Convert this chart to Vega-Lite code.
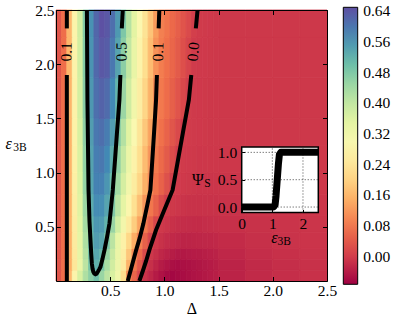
{
"$schema":"https://vega.github.io/schema/vega-lite/v6.json",
"width":271,"height":271,"autosize":"none",
"padding":{"left":56,"top":10,"right":68,"bottom":37},
"config":{"view":{"stroke":null},"axis":{"labelFont":"Liberation Serif","titleFont":"Liberation Serif","labelColor":"black","titleColor":"black","labelFontSize":15.5,"titleFontWeight":"normal","grid":false,"labelFlush":false,"labelOverlap":false,"domainColor":"black","domainWidth":1,"tickColor":"black","tickWidth":1}},
"datasets":{
"cells":[
{"x0":0,"x1":0.05,"y0":0,"y1":0.1,"v":0.035},{"x0":0.05,"x1":0.1,"y0":0,"y1":0.1,"v":0.07},{"x0":0.1,"x1":0.15,"y0":0,"y1":0.1,"v":0.163},{"x0":0.15,"x1":0.2,"y0":0,"y1":0.1,"v":0.278},{"x0":0.2,"x1":0.25,"y0":0,"y1":0.1,"v":0.372},{"x0":0.25,"x1":0.3,"y0":0,"y1":0.1,"v":0.427},{"x0":0.3,"x1":0.35,"y0":0,"y1":0.1,"v":0.465},{"x0":0.35,"x1":0.4,"y0":0,"y1":0.1,"v":0.496},{"x0":0.4,"x1":0.45,"y0":0,"y1":0.1,"v":0.451},{"x0":0.45,"x1":0.5,"y0":0,"y1":0.1,"v":0.409},{"x0":0.5,"x1":0.55,"y0":0,"y1":0.1,"v":0.371},{"x0":0.55,"x1":0.6,"y0":0,"y1":0.1,"v":0.318},{"x0":0.6,"x1":0.65,"y0":0,"y1":0.1,"v":0.219},{"x0":0.65,"x1":0.7,"y0":0,"y1":0.1,"v":0.102},{"x0":0.7,"x1":0.75,"y0":0,"y1":0.1,"v":0.057},{"x0":0.75,"x1":0.8,"y0":0,"y1":0.1,"v":0.013},{"x0":0.8,"x1":0.85,"y0":0,"y1":0.1,"v":-0.011},{"x0":0.85,"x1":0.9,"y0":0,"y1":0.1,"v":-0.027},{"x0":0.9,"x1":0.95,"y0":0,"y1":0.1,"v":-0.04},{"x0":0.95,"x1":1,"y0":0,"y1":0.1,"v":-0.05},{"x0":1,"x1":1.05,"y0":0,"y1":0.1,"v":-0.06},{"x0":1.05,"x1":1.1,"y0":0,"y1":0.1,"v":-0.063},{"x0":1.1,"x1":1.15,"y0":0,"y1":0.1,"v":-0.06},{"x0":1.15,"x1":1.2,"y0":0,"y1":0.1,"v":-0.057},{"x0":1.2,"x1":1.25,"y0":0,"y1":0.1,"v":-0.054},{"x0":1.25,"x1":1.3,"y0":0,"y1":0.1,"v":-0.05},{"x0":1.3,"x1":1.35,"y0":0,"y1":0.1,"v":-0.047},{"x0":1.35,"x1":1.4,"y0":0,"y1":0.1,"v":-0.044},{"x0":1.4,"x1":1.45,"y0":0,"y1":0.1,"v":-0.04},{"x0":1.45,"x1":1.5,"y0":0,"y1":0.1,"v":-0.037},{"x0":1.5,"x1":1.75,"y0":0,"y1":0.1,"v":-0.031},{"x0":1.75,"x1":2,"y0":0,"y1":0.1,"v":-0.022},{"x0":2,"x1":2.25,"y0":0,"y1":0.1,"v":-0.017},{"x0":2.25,"x1":2.5,"y0":0,"y1":0.1,"v":-0.013},
{"x0":0,"x1":0.05,"y0":0.1,"y1":0.2,"v":0.035},{"x0":0.05,"x1":0.1,"y0":0.1,"y1":0.2,"v":0.07},{"x0":0.1,"x1":0.15,"y0":0.1,"y1":0.2,"v":0.148},{"x0":0.15,"x1":0.2,"y0":0.1,"y1":0.2,"v":0.243},{"x0":0.2,"x1":0.25,"y0":0.1,"y1":0.2,"v":0.331},{"x0":0.25,"x1":0.3,"y0":0.1,"y1":0.2,"v":0.409},{"x0":0.3,"x1":0.35,"y0":0.1,"y1":0.2,"v":0.487},{"x0":0.35,"x1":0.4,"y0":0.1,"y1":0.2,"v":0.52},{"x0":0.4,"x1":0.45,"y0":0.1,"y1":0.2,"v":0.489},{"x0":0.45,"x1":0.5,"y0":0.1,"y1":0.2,"v":0.435},{"x0":0.5,"x1":0.55,"y0":0.1,"y1":0.2,"v":0.381},{"x0":0.55,"x1":0.6,"y0":0.1,"y1":0.2,"v":0.327},{"x0":0.6,"x1":0.65,"y0":0.1,"y1":0.2,"v":0.251},{"x0":0.65,"x1":0.7,"y0":0.1,"y1":0.2,"v":0.154},{"x0":0.7,"x1":0.75,"y0":0.1,"y1":0.2,"v":0.081},{"x0":0.75,"x1":0.8,"y0":0.1,"y1":0.2,"v":0.037},{"x0":0.8,"x1":0.85,"y0":0.1,"y1":0.2,"v":-0.002},{"x0":0.85,"x1":0.9,"y0":0.1,"y1":0.2,"v":-0.015},{"x0":0.9,"x1":0.95,"y0":0.1,"y1":0.2,"v":-0.028},{"x0":0.95,"x1":1,"y0":0.1,"y1":0.2,"v":-0.039},{"x0":1,"x1":1.05,"y0":0.1,"y1":0.2,"v":-0.047},{"x0":1.05,"x1":1.1,"y0":0.1,"y1":0.2,"v":-0.054},{"x0":1.1,"x1":1.15,"y0":0.1,"y1":0.2,"v":-0.057},{"x0":1.15,"x1":1.2,"y0":0.1,"y1":0.2,"v":-0.054},{"x0":1.2,"x1":1.25,"y0":0.1,"y1":0.2,"v":-0.052},{"x0":1.25,"x1":1.3,"y0":0.1,"y1":0.2,"v":-0.049},{"x0":1.3,"x1":1.35,"y0":0.1,"y1":0.2,"v":-0.046},{"x0":1.35,"x1":1.4,"y0":0.1,"y1":0.2,"v":-0.043},{"x0":1.4,"x1":1.45,"y0":0.1,"y1":0.2,"v":-0.04},{"x0":1.45,"x1":1.5,"y0":0.1,"y1":0.2,"v":-0.037},{"x0":1.5,"x1":1.75,"y0":0.1,"y1":0.2,"v":-0.031},{"x0":1.75,"x1":2,"y0":0.1,"y1":0.2,"v":-0.022},{"x0":2,"x1":2.25,"y0":0.1,"y1":0.2,"v":-0.017},{"x0":2.25,"x1":2.5,"y0":0.1,"y1":0.2,"v":-0.013},
{"x0":0,"x1":0.05,"y0":0.2,"y1":0.3,"v":0.035},{"x0":0.05,"x1":0.1,"y0":0.2,"y1":0.3,"v":0.07},{"x0":0.1,"x1":0.15,"y0":0.2,"y1":0.3,"v":0.15},{"x0":0.15,"x1":0.2,"y0":0.2,"y1":0.3,"v":0.25},{"x0":0.2,"x1":0.25,"y0":0.2,"y1":0.3,"v":0.34},{"x0":0.25,"x1":0.3,"y0":0.2,"y1":0.3,"v":0.419},{"x0":0.3,"x1":0.35,"y0":0.2,"y1":0.3,"v":0.5},{"x0":0.35,"x1":0.4,"y0":0.2,"y1":0.3,"v":0.535},{"x0":0.4,"x1":0.45,"y0":0.2,"y1":0.3,"v":0.515},{"x0":0.45,"x1":0.5,"y0":0.2,"y1":0.3,"v":0.455},{"x0":0.5,"x1":0.55,"y0":0.2,"y1":0.3,"v":0.393},{"x0":0.55,"x1":0.6,"y0":0.2,"y1":0.3,"v":0.331},{"x0":0.6,"x1":0.65,"y0":0.2,"y1":0.3,"v":0.262},{"x0":0.65,"x1":0.7,"y0":0.2,"y1":0.3,"v":0.185},{"x0":0.7,"x1":0.75,"y0":0.2,"y1":0.3,"v":0.108},{"x0":0.75,"x1":0.8,"y0":0.2,"y1":0.3,"v":0.063},{"x0":0.8,"x1":0.85,"y0":0.2,"y1":0.3,"v":0.021},{"x0":0.85,"x1":0.9,"y0":0.2,"y1":0.3,"v":-0.005},{"x0":0.9,"x1":0.95,"y0":0.2,"y1":0.3,"v":-0.015},{"x0":0.95,"x1":1,"y0":0.2,"y1":0.3,"v":-0.025},{"x0":1,"x1":1.05,"y0":0.2,"y1":0.3,"v":-0.033},{"x0":1.05,"x1":1.1,"y0":0.2,"y1":0.3,"v":-0.038},{"x0":1.1,"x1":1.15,"y0":0.2,"y1":0.3,"v":-0.043},{"x0":1.15,"x1":1.2,"y0":0.2,"y1":0.3,"v":-0.044},{"x0":1.2,"x1":1.25,"y0":0.2,"y1":0.3,"v":-0.042},{"x0":1.25,"x1":1.3,"y0":0.2,"y1":0.3,"v":-0.04},{"x0":1.3,"x1":1.35,"y0":0.2,"y1":0.3,"v":-0.039},{"x0":1.35,"x1":1.4,"y0":0.2,"y1":0.3,"v":-0.037},{"x0":1.4,"x1":1.45,"y0":0.2,"y1":0.3,"v":-0.034},{"x0":1.45,"x1":1.5,"y0":0.2,"y1":0.3,"v":-0.032},{"x0":1.5,"x1":1.75,"y0":0.2,"y1":0.3,"v":-0.025},{"x0":1.75,"x1":2,"y0":0.2,"y1":0.3,"v":-0.018},{"x0":2,"x1":2.25,"y0":0.2,"y1":0.3,"v":-0.014},{"x0":2.25,"x1":2.5,"y0":0.2,"y1":0.3,"v":-0.011},
{"x0":0,"x1":0.05,"y0":0.3,"y1":0.45,"v":0.035},{"x0":0.05,"x1":0.1,"y0":0.3,"y1":0.45,"v":0.07},{"x0":0.1,"x1":0.15,"y0":0.3,"y1":0.45,"v":0.151},{"x0":0.15,"x1":0.2,"y0":0.3,"y1":0.45,"v":0.253},{"x0":0.2,"x1":0.25,"y0":0.3,"y1":0.45,"v":0.345},{"x0":0.25,"x1":0.3,"y0":0.3,"y1":0.45,"v":0.428},{"x0":0.3,"x1":0.35,"y0":0.3,"y1":0.45,"v":0.51},{"x0":0.35,"x1":0.4,"y0":0.3,"y1":0.45,"v":0.549},{"x0":0.4,"x1":0.45,"y0":0.3,"y1":0.45,"v":0.537},{"x0":0.45,"x1":0.5,"y0":0.3,"y1":0.45,"v":0.484},{"x0":0.5,"x1":0.55,"y0":0.3,"y1":0.45,"v":0.41},{"x0":0.55,"x1":0.6,"y0":0.3,"y1":0.45,"v":0.337},{"x0":0.6,"x1":0.65,"y0":0.3,"y1":0.45,"v":0.27},{"x0":0.65,"x1":0.7,"y0":0.3,"y1":0.45,"v":0.209},{"x0":0.7,"x1":0.75,"y0":0.3,"y1":0.45,"v":0.148},{"x0":0.75,"x1":0.8,"y0":0.3,"y1":0.45,"v":0.091},{"x0":0.8,"x1":0.85,"y0":0.3,"y1":0.45,"v":0.052},{"x0":0.85,"x1":0.9,"y0":0.3,"y1":0.45,"v":0.013},{"x0":0.9,"x1":0.95,"y0":0.3,"y1":0.45,"v":-0.005},{"x0":0.95,"x1":1,"y0":0.3,"y1":0.45,"v":-0.012},{"x0":1,"x1":1.05,"y0":0.3,"y1":0.45,"v":-0.019},{"x0":1.05,"x1":1.1,"y0":0.3,"y1":0.45,"v":-0.023},{"x0":1.1,"x1":1.15,"y0":0.3,"y1":0.45,"v":-0.026},{"x0":1.15,"x1":1.2,"y0":0.3,"y1":0.45,"v":-0.029},{"x0":1.2,"x1":1.25,"y0":0.3,"y1":0.45,"v":-0.029},{"x0":1.25,"x1":1.3,"y0":0.3,"y1":0.45,"v":-0.028},{"x0":1.3,"x1":1.35,"y0":0.3,"y1":0.45,"v":-0.027},{"x0":1.35,"x1":1.4,"y0":0.3,"y1":0.45,"v":-0.026},{"x0":1.4,"x1":1.45,"y0":0.3,"y1":0.45,"v":-0.025},{"x0":1.45,"x1":1.5,"y0":0.3,"y1":0.45,"v":-0.024},{"x0":1.5,"x1":1.75,"y0":0.3,"y1":0.45,"v":-0.02},{"x0":1.75,"x1":2,"y0":0.3,"y1":0.45,"v":-0.015},{"x0":2,"x1":2.25,"y0":0.3,"y1":0.45,"v":-0.011},{"x0":2.25,"x1":2.5,"y0":0.3,"y1":0.45,"v":-0.009},
{"x0":0,"x1":0.05,"y0":0.45,"y1":0.6,"v":0.035},{"x0":0.05,"x1":0.1,"y0":0.45,"y1":0.6,"v":0.07},{"x0":0.1,"x1":0.15,"y0":0.45,"y1":0.6,"v":0.153},{"x0":0.15,"x1":0.2,"y0":0.45,"y1":0.6,"v":0.258},{"x0":0.2,"x1":0.25,"y0":0.45,"y1":0.6,"v":0.351},{"x0":0.25,"x1":0.3,"y0":0.45,"y1":0.6,"v":0.437},{"x0":0.3,"x1":0.35,"y0":0.45,"y1":0.6,"v":0.518},{"x0":0.35,"x1":0.4,"y0":0.45,"y1":0.6,"v":0.558},{"x0":0.4,"x1":0.45,"y0":0.45,"y1":0.6,"v":0.553},{"x0":0.45,"x1":0.5,"y0":0.45,"y1":0.6,"v":0.518},{"x0":0.5,"x1":0.55,"y0":0.45,"y1":0.6,"v":0.453},{"x0":0.55,"x1":0.6,"y0":0.45,"y1":0.6,"v":0.382},{"x0":0.6,"x1":0.65,"y0":0.45,"y1":0.6,"v":0.311},{"x0":0.65,"x1":0.7,"y0":0.45,"y1":0.6,"v":0.251},{"x0":0.7,"x1":0.75,"y0":0.45,"y1":0.6,"v":0.193},{"x0":0.75,"x1":0.8,"y0":0.45,"y1":0.6,"v":0.135},{"x0":0.8,"x1":0.85,"y0":0.45,"y1":0.6,"v":0.086},{"x0":0.85,"x1":0.9,"y0":0.45,"y1":0.6,"v":0.05},{"x0":0.9,"x1":0.95,"y0":0.45,"y1":0.6,"v":0.015},{"x0":0.95,"x1":1,"y0":0.45,"y1":0.6,"v":-0.003},{"x0":1,"x1":1.05,"y0":0.45,"y1":0.6,"v":-0.008},{"x0":1.05,"x1":1.1,"y0":0.45,"y1":0.6,"v":-0.013},{"x0":1.1,"x1":1.15,"y0":0.45,"y1":0.6,"v":-0.017},{"x0":1.15,"x1":1.2,"y0":0.45,"y1":0.6,"v":-0.018},{"x0":1.2,"x1":1.25,"y0":0.45,"y1":0.6,"v":-0.019},{"x0":1.25,"x1":1.3,"y0":0.45,"y1":0.6,"v":-0.02},{"x0":1.3,"x1":1.35,"y0":0.45,"y1":0.6,"v":-0.02},{"x0":1.35,"x1":1.4,"y0":0.45,"y1":0.6,"v":-0.018},{"x0":1.4,"x1":1.45,"y0":0.45,"y1":0.6,"v":-0.017},{"x0":1.45,"x1":1.5,"y0":0.45,"y1":0.6,"v":-0.016},{"x0":1.5,"x1":1.75,"y0":0.45,"y1":0.6,"v":-0.014},{"x0":1.75,"x1":2,"y0":0.45,"y1":0.6,"v":-0.012},{"x0":2,"x1":2.25,"y0":0.45,"y1":0.6,"v":-0.01},{"x0":2.25,"x1":2.5,"y0":0.45,"y1":0.6,"v":-0.008},
{"x0":0,"x1":0.05,"y0":0.6,"y1":0.8,"v":0.035},{"x0":0.05,"x1":0.1,"y0":0.6,"y1":0.8,"v":0.07},{"x0":0.1,"x1":0.15,"y0":0.6,"y1":0.8,"v":0.154},{"x0":0.15,"x1":0.2,"y0":0.6,"y1":0.8,"v":0.263},{"x0":0.2,"x1":0.25,"y0":0.6,"y1":0.8,"v":0.358},{"x0":0.25,"x1":0.3,"y0":0.6,"y1":0.8,"v":0.447},{"x0":0.3,"x1":0.35,"y0":0.6,"y1":0.8,"v":0.53},{"x0":0.35,"x1":0.4,"y0":0.6,"y1":0.8,"v":0.571},{"x0":0.4,"x1":0.45,"y0":0.6,"y1":0.8,"v":0.57},{"x0":0.45,"x1":0.5,"y0":0.6,"y1":0.8,"v":0.539},{"x0":0.5,"x1":0.55,"y0":0.6,"y1":0.8,"v":0.48},{"x0":0.55,"x1":0.6,"y0":0.6,"y1":0.8,"v":0.413},{"x0":0.6,"x1":0.65,"y0":0.6,"y1":0.8,"v":0.346},{"x0":0.65,"x1":0.7,"y0":0.6,"y1":0.8,"v":0.283},{"x0":0.7,"x1":0.75,"y0":0.6,"y1":0.8,"v":0.228},{"x0":0.75,"x1":0.8,"y0":0.6,"y1":0.8,"v":0.173},{"x0":0.8,"x1":0.85,"y0":0.6,"y1":0.8,"v":0.119},{"x0":0.85,"x1":0.9,"y0":0.6,"y1":0.8,"v":0.081},{"x0":0.9,"x1":0.95,"y0":0.6,"y1":0.8,"v":0.053},{"x0":0.95,"x1":1,"y0":0.6,"y1":0.8,"v":0.024},{"x0":1,"x1":1.05,"y0":0.6,"y1":0.8,"v":0},{"x0":1.05,"x1":1.1,"y0":0.6,"y1":0.8,"v":-0.004},{"x0":1.1,"x1":1.15,"y0":0.6,"y1":0.8,"v":-0.007},{"x0":1.15,"x1":1.2,"y0":0.6,"y1":0.8,"v":-0.01},{"x0":1.2,"x1":1.25,"y0":0.6,"y1":0.8,"v":-0.012},{"x0":1.25,"x1":1.3,"y0":0.6,"y1":0.8,"v":-0.012},{"x0":1.3,"x1":1.35,"y0":0.6,"y1":0.8,"v":-0.012},{"x0":1.35,"x1":1.4,"y0":0.6,"y1":0.8,"v":-0.012},{"x0":1.4,"x1":1.45,"y0":0.6,"y1":0.8,"v":-0.012},{"x0":1.45,"x1":1.5,"y0":0.6,"y1":0.8,"v":-0.012},{"x0":1.5,"x1":1.75,"y0":0.6,"y1":0.8,"v":-0.011},{"x0":1.75,"x1":2,"y0":0.6,"y1":0.8,"v":-0.009},{"x0":2,"x1":2.25,"y0":0.6,"y1":0.8,"v":-0.008},{"x0":2.25,"x1":2.5,"y0":0.6,"y1":0.8,"v":-0.007},
{"x0":0,"x1":0.05,"y0":0.8,"y1":1,"v":0.035},{"x0":0.05,"x1":0.1,"y0":0.8,"y1":1,"v":0.07},{"x0":0.1,"x1":0.15,"y0":0.8,"y1":1,"v":0.156},{"x0":0.15,"x1":0.2,"y0":0.8,"y1":1,"v":0.267},{"x0":0.2,"x1":0.25,"y0":0.8,"y1":1,"v":0.364},{"x0":0.25,"x1":0.3,"y0":0.8,"y1":1,"v":0.456},{"x0":0.3,"x1":0.35,"y0":0.8,"y1":1,"v":0.54},{"x0":0.35,"x1":0.4,"y0":0.8,"y1":1,"v":0.585},{"x0":0.4,"x1":0.45,"y0":0.8,"y1":1,"v":0.587},{"x0":0.45,"x1":0.5,"y0":0.8,"y1":1,"v":0.559},{"x0":0.5,"x1":0.55,"y0":0.8,"y1":1,"v":0.504},{"x0":0.55,"x1":0.6,"y0":0.8,"y1":1,"v":0.44},{"x0":0.6,"x1":0.65,"y0":0.8,"y1":1,"v":0.376},{"x0":0.65,"x1":0.7,"y0":0.8,"y1":1,"v":0.312},{"x0":0.7,"x1":0.75,"y0":0.8,"y1":1,"v":0.257},{"x0":0.75,"x1":0.8,"y0":0.8,"y1":1,"v":0.205},{"x0":0.8,"x1":0.85,"y0":0.8,"y1":1,"v":0.152},{"x0":0.85,"x1":0.9,"y0":0.8,"y1":1,"v":0.1},{"x0":0.9,"x1":0.95,"y0":0.8,"y1":1,"v":0.076},{"x0":0.95,"x1":1,"y0":0.8,"y1":1,"v":0.053},{"x0":1,"x1":1.05,"y0":0.8,"y1":1,"v":0.029},{"x0":1.05,"x1":1.1,"y0":0.8,"y1":1,"v":0.006},{"x0":1.1,"x1":1.15,"y0":0.8,"y1":1,"v":-0.001},{"x0":1.15,"x1":1.2,"y0":0.8,"y1":1,"v":-0.003},{"x0":1.2,"x1":1.25,"y0":0.8,"y1":1,"v":-0.005},{"x0":1.25,"x1":1.3,"y0":0.8,"y1":1,"v":-0.007},{"x0":1.3,"x1":1.35,"y0":0.8,"y1":1,"v":-0.008},{"x0":1.35,"x1":1.4,"y0":0.8,"y1":1,"v":-0.008},{"x0":1.4,"x1":1.45,"y0":0.8,"y1":1,"v":-0.008},{"x0":1.45,"x1":1.5,"y0":0.8,"y1":1,"v":-0.008},{"x0":1.5,"x1":1.75,"y0":0.8,"y1":1,"v":-0.008},{"x0":1.75,"x1":2,"y0":0.8,"y1":1,"v":-0.007},{"x0":2,"x1":2.25,"y0":0.8,"y1":1,"v":-0.006},{"x0":2.25,"x1":2.5,"y0":0.8,"y1":1,"v":-0.005},
{"x0":0,"x1":0.05,"y0":1,"y1":1.25,"v":0.035},{"x0":0.05,"x1":0.1,"y0":1,"y1":1.25,"v":0.07},{"x0":0.1,"x1":0.15,"y0":1,"y1":1.25,"v":0.156},{"x0":0.15,"x1":0.2,"y0":1,"y1":1.25,"v":0.269},{"x0":0.2,"x1":0.25,"y0":1,"y1":1.25,"v":0.367},{"x0":0.25,"x1":0.3,"y0":1,"y1":1.25,"v":0.459},{"x0":0.3,"x1":0.35,"y0":1,"y1":1.25,"v":0.543},{"x0":0.35,"x1":0.4,"y0":1,"y1":1.25,"v":0.59},{"x0":0.4,"x1":0.45,"y0":1,"y1":1.25,"v":0.598},{"x0":0.45,"x1":0.5,"y0":1,"y1":1.25,"v":0.577},{"x0":0.5,"x1":0.55,"y0":1,"y1":1.25,"v":0.527},{"x0":0.55,"x1":0.6,"y0":1,"y1":1.25,"v":0.461},{"x0":0.6,"x1":0.65,"y0":1,"y1":1.25,"v":0.397},{"x0":0.65,"x1":0.7,"y0":1,"y1":1.25,"v":0.332},{"x0":0.7,"x1":0.75,"y0":1,"y1":1.25,"v":0.274},{"x0":0.75,"x1":0.8,"y0":1,"y1":1.25,"v":0.221},{"x0":0.8,"x1":0.85,"y0":1,"y1":1.25,"v":0.168},{"x0":0.85,"x1":0.9,"y0":1,"y1":1.25,"v":0.115},{"x0":0.9,"x1":0.95,"y0":1,"y1":1.25,"v":0.085},{"x0":0.95,"x1":1,"y0":1,"y1":1.25,"v":0.064},{"x0":1,"x1":1.05,"y0":1,"y1":1.25,"v":0.043},{"x0":1.05,"x1":1.1,"y0":1,"y1":1.25,"v":0.022},{"x0":1.1,"x1":1.15,"y0":1,"y1":1.25,"v":0.001},{"x0":1.15,"x1":1.2,"y0":1,"y1":1.25,"v":-0.001},{"x0":1.2,"x1":1.25,"y0":1,"y1":1.25,"v":-0.003},{"x0":1.25,"x1":1.3,"y0":1,"y1":1.25,"v":-0.004},{"x0":1.3,"x1":1.35,"y0":1,"y1":1.25,"v":-0.006},{"x0":1.35,"x1":1.4,"y0":1,"y1":1.25,"v":-0.006},{"x0":1.4,"x1":1.45,"y0":1,"y1":1.25,"v":-0.006},{"x0":1.45,"x1":1.5,"y0":1,"y1":1.25,"v":-0.006},{"x0":1.5,"x1":1.75,"y0":1,"y1":1.25,"v":-0.006},{"x0":1.75,"x1":2,"y0":1,"y1":1.25,"v":-0.005},{"x0":2,"x1":2.25,"y0":1,"y1":1.25,"v":-0.005},{"x0":2.25,"x1":2.5,"y0":1,"y1":1.25,"v":-0.005},
{"x0":0,"x1":0.05,"y0":1.25,"y1":1.5,"v":0.035},{"x0":0.05,"x1":0.1,"y0":1.25,"y1":1.5,"v":0.07},{"x0":0.1,"x1":0.15,"y0":1.25,"y1":1.5,"v":0.157},{"x0":0.15,"x1":0.2,"y0":1.25,"y1":1.5,"v":0.272},{"x0":0.2,"x1":0.25,"y0":1.25,"y1":1.5,"v":0.371},{"x0":0.25,"x1":0.3,"y0":1.25,"y1":1.5,"v":0.464},{"x0":0.3,"x1":0.35,"y0":1.25,"y1":1.5,"v":0.549},{"x0":0.35,"x1":0.4,"y0":1.25,"y1":1.5,"v":0.598},{"x0":0.4,"x1":0.45,"y0":1.25,"y1":1.5,"v":0.609},{"x0":0.45,"x1":0.5,"y0":1.25,"y1":1.5,"v":0.592},{"x0":0.5,"x1":0.55,"y0":1.25,"y1":1.5,"v":0.549},{"x0":0.55,"x1":0.6,"y0":1.25,"y1":1.5,"v":0.484},{"x0":0.6,"x1":0.65,"y0":1.25,"y1":1.5,"v":0.419},{"x0":0.65,"x1":0.7,"y0":1.25,"y1":1.5,"v":0.355},{"x0":0.7,"x1":0.75,"y0":1.25,"y1":1.5,"v":0.291},{"x0":0.75,"x1":0.8,"y0":1.25,"y1":1.5,"v":0.238},{"x0":0.8,"x1":0.85,"y0":1.25,"y1":1.5,"v":0.185},{"x0":0.85,"x1":0.9,"y0":1.25,"y1":1.5,"v":0.132},{"x0":0.9,"x1":0.95,"y0":1.25,"y1":1.5,"v":0.093},{"x0":0.95,"x1":1,"y0":1.25,"y1":1.5,"v":0.074},{"x0":1,"x1":1.05,"y0":1.25,"y1":1.5,"v":0.055},{"x0":1.05,"x1":1.1,"y0":1.25,"y1":1.5,"v":0.036},{"x0":1.1,"x1":1.15,"y0":1.25,"y1":1.5,"v":0.018},{"x0":1.15,"x1":1.2,"y0":1.25,"y1":1.5,"v":0},{"x0":1.2,"x1":1.25,"y0":1.25,"y1":1.5,"v":-0.001},{"x0":1.25,"x1":1.3,"y0":1.25,"y1":1.5,"v":-0.002},{"x0":1.3,"x1":1.35,"y0":1.25,"y1":1.5,"v":-0.003},{"x0":1.35,"x1":1.4,"y0":1.25,"y1":1.5,"v":-0.004},{"x0":1.4,"x1":1.45,"y0":1.25,"y1":1.5,"v":-0.005},{"x0":1.45,"x1":1.5,"y0":1.25,"y1":1.5,"v":-0.005},{"x0":1.5,"x1":1.75,"y0":1.25,"y1":1.5,"v":-0.005},{"x0":1.75,"x1":2,"y0":1.25,"y1":1.5,"v":-0.005},{"x0":2,"x1":2.25,"y0":1.25,"y1":1.5,"v":-0.005},{"x0":2.25,"x1":2.5,"y0":1.25,"y1":1.5,"v":-0.005},
{"x0":0,"x1":0.05,"y0":1.5,"y1":1.875,"v":0.035},{"x0":0.05,"x1":0.1,"y0":1.5,"y1":1.875,"v":0.07},{"x0":0.1,"x1":0.15,"y0":1.5,"y1":1.875,"v":0.158},{"x0":0.15,"x1":0.2,"y0":1.5,"y1":1.875,"v":0.274},{"x0":0.2,"x1":0.25,"y0":1.5,"y1":1.875,"v":0.375},{"x0":0.25,"x1":0.3,"y0":1.5,"y1":1.875,"v":0.471},{"x0":0.3,"x1":0.35,"y0":1.5,"y1":1.875,"v":0.556},{"x0":0.35,"x1":0.4,"y0":1.5,"y1":1.875,"v":0.608},{"x0":0.4,"x1":0.45,"y0":1.5,"y1":1.875,"v":0.625},{"x0":0.45,"x1":0.5,"y0":1.5,"y1":1.875,"v":0.613},{"x0":0.5,"x1":0.55,"y0":1.5,"y1":1.875,"v":0.577},{"x0":0.55,"x1":0.6,"y0":1.5,"y1":1.875,"v":0.517},{"x0":0.6,"x1":0.65,"y0":1.5,"y1":1.875,"v":0.449},{"x0":0.65,"x1":0.7,"y0":1.5,"y1":1.875,"v":0.383},{"x0":0.7,"x1":0.75,"y0":1.5,"y1":1.875,"v":0.317},{"x0":0.75,"x1":0.8,"y0":1.5,"y1":1.875,"v":0.26},{"x0":0.8,"x1":0.85,"y0":1.5,"y1":1.875,"v":0.206},{"x0":0.85,"x1":0.9,"y0":1.5,"y1":1.875,"v":0.153},{"x0":0.9,"x1":0.95,"y0":1.5,"y1":1.875,"v":0.099},{"x0":0.95,"x1":1,"y0":1.5,"y1":1.875,"v":0.083},{"x0":1,"x1":1.05,"y0":1.5,"y1":1.875,"v":0.067},{"x0":1.05,"x1":1.1,"y0":1.5,"y1":1.875,"v":0.05},{"x0":1.1,"x1":1.15,"y0":1.5,"y1":1.875,"v":0.034},{"x0":1.15,"x1":1.2,"y0":1.5,"y1":1.875,"v":0.017},{"x0":1.2,"x1":1.25,"y0":1.5,"y1":1.875,"v":0.001},{"x0":1.25,"x1":1.3,"y0":1.5,"y1":1.875,"v":-0.002},{"x0":1.3,"x1":1.35,"y0":1.5,"y1":1.875,"v":-0.003},{"x0":1.35,"x1":1.4,"y0":1.5,"y1":1.875,"v":-0.004},{"x0":1.4,"x1":1.45,"y0":1.5,"y1":1.875,"v":-0.005},{"x0":1.45,"x1":1.5,"y0":1.5,"y1":1.875,"v":-0.005},{"x0":1.5,"x1":1.75,"y0":1.5,"y1":1.875,"v":-0.005},{"x0":1.75,"x1":2,"y0":1.5,"y1":1.875,"v":-0.005},{"x0":2,"x1":2.25,"y0":1.5,"y1":1.875,"v":-0.005},{"x0":2.25,"x1":2.5,"y0":1.5,"y1":1.875,"v":-0.005},
{"x0":0,"x1":0.05,"y0":1.875,"y1":2.25,"v":0.035},{"x0":0.05,"x1":0.1,"y0":1.875,"y1":2.25,"v":0.07},{"x0":0.1,"x1":0.15,"y0":1.875,"y1":2.25,"v":0.159},{"x0":0.15,"x1":0.2,"y0":1.875,"y1":2.25,"v":0.276},{"x0":0.2,"x1":0.25,"y0":1.875,"y1":2.25,"v":0.378},{"x0":0.25,"x1":0.3,"y0":1.875,"y1":2.25,"v":0.475},{"x0":0.3,"x1":0.35,"y0":1.875,"y1":2.25,"v":0.562},{"x0":0.35,"x1":0.4,"y0":1.875,"y1":2.25,"v":0.617},{"x0":0.4,"x1":0.45,"y0":1.875,"y1":2.25,"v":0.639},{"x0":0.45,"x1":0.5,"y0":1.875,"y1":2.25,"v":0.632},{"x0":0.5,"x1":0.55,"y0":1.875,"y1":2.25,"v":0.598},{"x0":0.55,"x1":0.6,"y0":1.875,"y1":2.25,"v":0.539},{"x0":0.6,"x1":0.65,"y0":1.875,"y1":2.25,"v":0.467},{"x0":0.65,"x1":0.7,"y0":1.875,"y1":2.25,"v":0.401},{"x0":0.7,"x1":0.75,"y0":1.875,"y1":2.25,"v":0.336},{"x0":0.75,"x1":0.8,"y0":1.875,"y1":2.25,"v":0.275},{"x0":0.8,"x1":0.85,"y0":1.875,"y1":2.25,"v":0.221},{"x0":0.85,"x1":0.9,"y0":1.875,"y1":2.25,"v":0.167},{"x0":0.9,"x1":0.95,"y0":1.875,"y1":2.25,"v":0.113},{"x0":0.95,"x1":1,"y0":1.875,"y1":2.25,"v":0.088},{"x0":1,"x1":1.05,"y0":1.875,"y1":2.25,"v":0.073},{"x0":1.05,"x1":1.1,"y0":1.875,"y1":2.25,"v":0.058},{"x0":1.1,"x1":1.15,"y0":1.875,"y1":2.25,"v":0.043},{"x0":1.15,"x1":1.2,"y0":1.875,"y1":2.25,"v":0.027},{"x0":1.2,"x1":1.25,"y0":1.875,"y1":2.25,"v":0.012},{"x0":1.25,"x1":1.3,"y0":1.875,"y1":2.25,"v":-0.001},{"x0":1.3,"x1":1.35,"y0":1.875,"y1":2.25,"v":-0.002},{"x0":1.35,"x1":1.4,"y0":1.875,"y1":2.25,"v":-0.003},{"x0":1.4,"x1":1.45,"y0":1.875,"y1":2.25,"v":-0.004},{"x0":1.45,"x1":1.5,"y0":1.875,"y1":2.25,"v":-0.005},{"x0":1.5,"x1":1.75,"y0":1.875,"y1":2.25,"v":-0.005},{"x0":1.75,"x1":2,"y0":1.875,"y1":2.25,"v":-0.005},{"x0":2,"x1":2.25,"y0":1.875,"y1":2.25,"v":-0.005},{"x0":2.25,"x1":2.5,"y0":1.875,"y1":2.25,"v":-0.005},
{"x0":0,"x1":0.05,"y0":2.25,"y1":2.5,"v":0.035},{"x0":0.05,"x1":0.1,"y0":2.25,"y1":2.5,"v":0.07},{"x0":0.1,"x1":0.15,"y0":2.25,"y1":2.5,"v":0.16},{"x0":0.15,"x1":0.2,"y0":2.25,"y1":2.5,"v":0.279},{"x0":0.2,"x1":0.25,"y0":2.25,"y1":2.5,"v":0.38},{"x0":0.25,"x1":0.3,"y0":2.25,"y1":2.5,"v":0.478},{"x0":0.3,"x1":0.35,"y0":2.25,"y1":2.5,"v":0.564},{"x0":0.35,"x1":0.4,"y0":2.25,"y1":2.5,"v":0.619},{"x0":0.4,"x1":0.45,"y0":2.25,"y1":2.5,"v":0.648},{"x0":0.45,"x1":0.5,"y0":2.25,"y1":2.5,"v":0.639},{"x0":0.5,"x1":0.55,"y0":2.25,"y1":2.5,"v":0.609},{"x0":0.55,"x1":0.6,"y0":2.25,"y1":2.5,"v":0.555},{"x0":0.6,"x1":0.65,"y0":2.25,"y1":2.5,"v":0.482},{"x0":0.65,"x1":0.7,"y0":2.25,"y1":2.5,"v":0.416},{"x0":0.7,"x1":0.75,"y0":2.25,"y1":2.5,"v":0.35},{"x0":0.75,"x1":0.8,"y0":2.25,"y1":2.5,"v":0.287},{"x0":0.8,"x1":0.85,"y0":2.25,"y1":2.5,"v":0.233},{"x0":0.85,"x1":0.9,"y0":2.25,"y1":2.5,"v":0.179},{"x0":0.9,"x1":0.95,"y0":2.25,"y1":2.5,"v":0.125},{"x0":0.95,"x1":1,"y0":2.25,"y1":2.5,"v":0.092},{"x0":1,"x1":1.05,"y0":2.25,"y1":2.5,"v":0.078},{"x0":1.05,"x1":1.1,"y0":2.25,"y1":2.5,"v":0.063},{"x0":1.1,"x1":1.15,"y0":2.25,"y1":2.5,"v":0.049},{"x0":1.15,"x1":1.2,"y0":2.25,"y1":2.5,"v":0.034},{"x0":1.2,"x1":1.25,"y0":2.25,"y1":2.5,"v":0.02},{"x0":1.25,"x1":1.3,"y0":2.25,"y1":2.5,"v":0.005},{"x0":1.3,"x1":1.35,"y0":2.25,"y1":2.5,"v":-0.001},{"x0":1.35,"x1":1.4,"y0":2.25,"y1":2.5,"v":-0.002},{"x0":1.4,"x1":1.45,"y0":2.25,"y1":2.5,"v":-0.003},{"x0":1.45,"x1":1.5,"y0":2.25,"y1":2.5,"v":-0.005},{"x0":1.5,"x1":1.75,"y0":2.25,"y1":2.5,"v":-0.005},{"x0":1.75,"x1":2,"y0":2.25,"y1":2.5,"v":-0.005},{"x0":2,"x1":2.25,"y0":2.25,"y1":2.5,"v":-0.005},{"x0":2.25,"x1":2.5,"y0":2.25,"y1":2.5,"v":-0.005}
],
"contours":[
{"seg":"a1","o":1,"x":0.1,"y":0},{"seg":"a1","o":2,"x":0.1,"y":1.9},
{"seg":"a2","o":1,"x":0.1,"y":2.33},{"seg":"a2","o":2,"x":0.1,"y":2.5},
{"seg":"b1","o":1,"x":0.285,"y":2.5},{"seg":"b1","o":2,"x":0.29,"y":1.67},{"seg":"b1","o":3,"x":0.3,"y":0.84},{"seg":"b1","o":4,"x":0.309,"y":0.55},{"seg":"b1","o":5,"x":0.318,"y":0.38},{"seg":"b1","o":6,"x":0.325,"y":0.25},{"seg":"b1","o":7,"x":0.331,"y":0.16},{"seg":"b1","o":8,"x":0.337,"y":0.115},{"seg":"b1","o":9,"x":0.344,"y":0.085},{"seg":"b1","o":10,"x":0.353,"y":0.069},{"seg":"b1","o":11,"x":0.364,"y":0.063},{"seg":"b1","o":12,"x":0.375,"y":0.068},{"seg":"b1","o":13,"x":0.386,"y":0.085},{"seg":"b1","o":14,"x":0.397,"y":0.105},{"seg":"b1","o":15,"x":0.41,"y":0.13},{"seg":"b1","o":16,"x":0.428,"y":0.2},{"seg":"b1","o":17,"x":0.447,"y":0.284},{"seg":"b1","o":18,"x":0.47,"y":0.4},{"seg":"b1","o":19,"x":0.493,"y":0.53},{"seg":"b1","o":20,"x":0.51,"y":0.7},{"seg":"b1","o":21,"x":0.524,"y":0.84},{"seg":"b1","o":22,"x":0.545,"y":1.125},{"seg":"b1","o":23,"x":0.563,"y":1.375},{"seg":"b1","o":24,"x":0.585,"y":1.67},{"seg":"b1","o":25,"x":0.594,"y":1.9},
{"seg":"b2","o":1,"x":0.607,"y":2.33},{"seg":"b2","o":2,"x":0.616,"y":2.5},
{"seg":"c1","o":1,"x":0.662,"y":0},{"seg":"c1","o":2,"x":0.7,"y":0.14},{"seg":"c1","o":3,"x":0.739,"y":0.284},{"seg":"c1","o":4,"x":0.773,"y":0.4},{"seg":"c1","o":5,"x":0.806,"y":0.53},{"seg":"c1","o":6,"x":0.842,"y":0.7},{"seg":"c1","o":7,"x":0.871,"y":0.84},{"seg":"c1","o":8,"x":0.889,"y":1.125},{"seg":"c1","o":9,"x":0.905,"y":1.375},{"seg":"c1","o":10,"x":0.923,"y":1.67},{"seg":"c1","o":11,"x":0.931,"y":1.9},
{"seg":"c2","o":1,"x":0.947,"y":2.33},{"seg":"c2","o":2,"x":0.953,"y":2.5},
{"seg":"d1","o":1,"x":0.769,"y":0},{"seg":"d1","o":2,"x":0.8,"y":0.09},{"seg":"d1","o":3,"x":0.83,"y":0.18},{"seg":"d1","o":4,"x":0.861,"y":0.284},{"seg":"d1","o":5,"x":0.923,"y":0.47},{"seg":"d1","o":6,"x":0.999,"y":0.655},{"seg":"d1","o":7,"x":1.076,"y":0.84},{"seg":"d1","o":8,"x":1.127,"y":1.125},{"seg":"d1","o":9,"x":1.172,"y":1.375},{"seg":"d1","o":10,"x":1.226,"y":1.673},{"seg":"d1","o":11,"x":1.248,"y":1.9},
{"seg":"d2","o":1,"x":1.29,"y":2.33},{"seg":"d2","o":2,"x":1.306,"y":2.5}
],
"clabels":[{"t":"0.1","x":0.097,"y":2.115},{"t":"0.5","x":0.605,"y":2.115},{"t":"0.1","x":0.942,"y":2.115},{"t":"0.0","x":1.268,"y":2.115}],
"insetbox":[{"x0":0,"x1":2.5,"y0":-0.1,"y1":1.1}],
"insetgrid":[{"x0":1,"x1":1,"y0":-0.1,"y1":1.1},{"x0":2,"x1":2,"y0":-0.1,"y1":1.1},{"x0":0,"x1":2.5,"y0":0,"y1":0},{"x0":0,"x1":2.5,"y0":0.5,"y1":0.5},{"x0":0,"x1":2.5,"y0":1,"y1":1}],
"step":[{"e":0,"p":0},{"e":1.04,"p":0},{"e":1.09,"p":0.04},{"e":1.12,"p":0.2},{"e":1.16,"p":0.5},{"e":1.2,"p":0.8},{"e":1.23,"p":0.96},{"e":1.28,"p":1},{"e":2.5,"p":1}]
},
"layer":[
{"data":{"name":"cells"},"mark":{"type":"rect","strokeWidth":0.8},
"encoding":{
"x":{"field":"x0","type":"quantitative","scale":{"domain":[0,2.5],"nice":false,"zero":false},
"axis":{"orient":"bottom","values":[0.5,1,1.5,2,2.5],"format":".1f","tickSize":-4.5,"labelPadding":7,"title":"Δ","titleFontSize":16,"titleX":135.5,"titleY":32,"titleAlign":"center","titleBaseline":"alphabetic","zindex":1}},
"x2":{"field":"x1"},
"y":{"field":"y0","type":"quantitative","scale":{"domain":[0,2.5],"nice":false,"zero":false},
"axis":{"orient":"left","values":[0.5,1,1.5,2,2.5],"format":".1f","tickSize":-4.5,"labelPadding":6.5,"title":"ε","titleFontSize":16,"titleFontStyle":"italic","titleAngle":0,"titleAlign":"left","titleBaseline":"alphabetic","titleX":-51,"titleY":138.3,"zindex":1}},
"y2":{"field":"y1"},
"color":{"field":"v","type":"quantitative","scale":{"scheme":"spectral","domain":[-0.072,0.65]},
"legend":{"type":"gradient","orient":"none","legendX":287.3,"legendY":-2.7,"direction":"vertical","gradientLength":277,"gradientThickness":14.4,"title":null,"values":[0,0.08,0.16,0.24,0.32,0.4,0.48,0.56,0.64],"format":".2f","labelFont":"Liberation Serif","labelFontSize":15.5,"labelColor":"black","labelOffset":5.5,"gradientStrokeColor":"black","gradientStrokeWidth":1,"padding":0,"labelOverlap":false}},
"stroke":{"field":"v","type":"quantitative","scale":{"scheme":"spectral","domain":[-0.07200001,0.65000001]},"legend":null}
}},
{"data":{"name":"contours"},"mark":{"type":"line","color":"black","strokeWidth":4,"strokeCap":"butt","clip":true},
"encoding":{
"x":{"field":"x","type":"quantitative","scale":{"domain":[0,2.5],"nice":false,"zero":false},"axis":null},
"y":{"field":"y","type":"quantitative","scale":{"domain":[0,2.5],"nice":false,"zero":false},"axis":null},
"detail":{"field":"seg","type":"nominal"},"order":{"field":"o","type":"quantitative"}}},
{"data":{"name":"clabels"},"transform":[{"filter":"datum.t !== '0.0'"}],"mark":{"type":"text","font":"Liberation Serif","fontSize":15.5,"angle":271,"align":"center","baseline":"middle","color":"black"},
"encoding":{
"x":{"field":"x","type":"quantitative","scale":{"domain":[0,2.5],"nice":false,"zero":false},"axis":null},
"y":{"field":"y","type":"quantitative","scale":{"domain":[0,2.5],"nice":false,"zero":false},"axis":null},
"text":{"field":"t"}}},
{"data":{"name":"clabels"},"transform":[{"filter":"datum.t === '0.0'"}],"mark":{"type":"text","font":"Liberation Serif","fontSize":15.5,"angle":275,"align":"center","baseline":"middle","color":"black"},
"encoding":{
"x":{"field":"x","type":"quantitative","scale":{"domain":[0,2.5],"nice":false,"zero":false},"axis":null},
"y":{"field":"y","type":"quantitative","scale":{"domain":[0,2.5],"nice":false,"zero":false},"axis":null},
"text":{"field":"t"}}},
{"data":{"name":"clabels"},"mark":{"type":"point","opacity":0},
"encoding":{
"x":{"field":"x","type":"quantitative","scale":{"domain":[0,2.5],"nice":false,"zero":false},"axis":{"orient":"top","values":[0.5,1,1.5,2,2.5],"labels":false,"tickSize":-4.5,"title":null,"zindex":1}},
"y":{"field":"y","type":"quantitative","scale":{"domain":[0,2.5],"nice":false,"zero":false},"axis":{"orient":"right","values":[0.5,1,1.5,2,2.5],"labels":false,"tickSize":-4.5,"title":null,"zindex":1}}}},
{"data":{"name":"clabels"},"mark":{"type":"point","opacity":0},
"encoding":{
"x":{"field":"x","type":"quantitative","scale":{"domain":[0,2.5],"nice":false,"zero":false},"axis":null},
"y":{"field":"y","type":"quantitative","scale":{"domain":[0,2.5],"nice":false,"zero":false},"axis":{"orient":"left","domain":false,"ticks":false,"labels":false,"title":"3B","titleFontSize":11.5,"titleAngle":0,"titleAlign":"left","titleBaseline":"alphabetic","titleX":-43.3,"titleY":140,"zindex":1}}}},
{"data":{"name":"insetbox"},"mark":{"type":"rect","fill":"white","stroke":"black","strokeWidth":1.5},
"encoding":{
"x":{"field":"x0","type":"quantitative","scale":{"domain":[0,2.5],"range":[185.7,262.3],"nice":false,"zero":false},
"axis":{"orient":"bottom","offset":-68.5,"values":[0,1,2],"format":"d","tickSize":-3,"labelPadding":6.5,"domain":false,"title":"ε","titleFontSize":16,"titleFontStyle":"italic","titleX":214.7,"titleY":29.5,"titleAlign":"left","titleBaseline":"alphabetic","zindex":1}},
"x2":{"field":"x1"},
"y":{"field":"y0","type":"quantitative","scale":{"domain":[-0.1,1.1],"range":[202.5,136.9],"nice":false,"zero":false},
"axis":{"orient":"left","offset":-185.7,"values":[0,0.5,1],"format":".1f","tickSize":-3,"labelPadding":8,"domain":false,"title":"Ψ","titleFontSize":16,"titleAngle":0,"titleX":-50.2,"titleY":174.5,"titleAlign":"left","titleBaseline":"alphabetic","zindex":1}},
"y2":{"field":"y1"}}},
{"data":{"name":"insetgrid"},"mark":{"type":"rule","color":"#444444","strokeWidth":1,"strokeDash":[1,2]},
"encoding":{
"x":{"field":"x0","type":"quantitative","scale":{"domain":[0,2.5],"range":[185.7,262.3],"nice":false,"zero":false},"axis":null},
"x2":{"field":"x1"},
"y":{"field":"y0","type":"quantitative","scale":{"domain":[-0.1,1.1],"range":[202.5,136.9],"nice":false,"zero":false},"axis":null},
"y2":{"field":"y1"}}},
{"data":{"name":"step"},"mark":{"type":"line","color":"black","strokeWidth":7,"strokeCap":"butt","strokeJoin":"round"},
"encoding":{
"x":{"field":"e","type":"quantitative","scale":{"domain":[0,2.5],"range":[185.7,262.3],"nice":false,"zero":false},"axis":null},
"y":{"field":"p","type":"quantitative","scale":{"domain":[-0.1,1.1],"range":[202.5,136.9],"nice":false,"zero":false},"axis":null},
"order":{"field":"e","type":"quantitative"}}},
{"data":{"name":"step"},"mark":{"type":"point","opacity":0},
"encoding":{
"x":{"field":"e","type":"quantitative","scale":{"domain":[0,2.5],"range":[185.7,262.3],"nice":false,"zero":false},
"axis":{"orient":"bottom","offset":-68.5,"domain":false,"ticks":false,"labels":false,"title":"3B","titleFontSize":11.5,"titleX":221,"titleY":31.8,"titleAlign":"left","titleBaseline":"alphabetic","zindex":1}},
"y":{"field":"p","type":"quantitative","scale":{"domain":[-0.1,1.1],"range":[202.5,136.9],"nice":false,"zero":false},
"axis":{"orient":"left","offset":-185.7,"domain":false,"ticks":false,"labels":false,"title":"S","titleFontSize":11.5,"titleAngle":0,"titleX":-38,"titleY":176.5,"titleAlign":"left","titleBaseline":"alphabetic","zindex":1}}}}
],
"resolve":{"scale":{"x":"independent","y":"independent"}}
}
